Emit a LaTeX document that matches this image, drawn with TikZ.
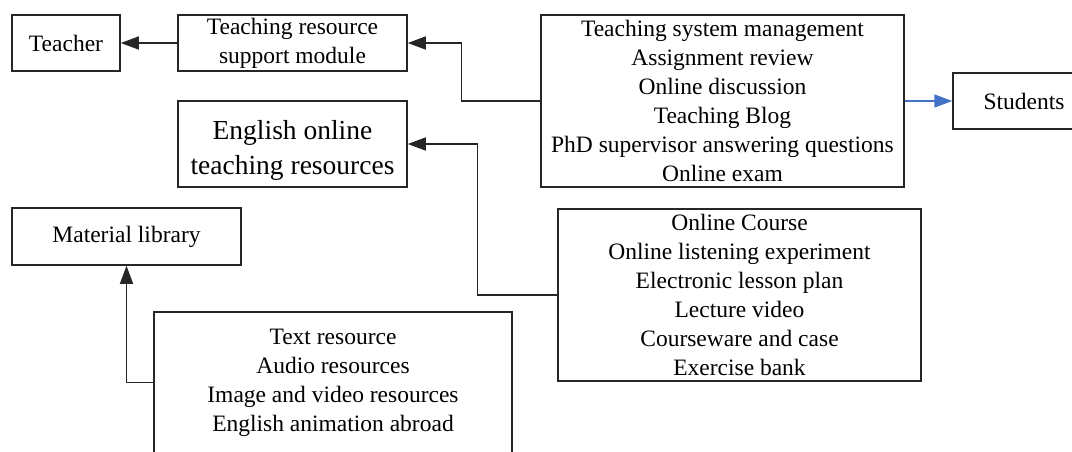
\documentclass[tikz,border=0pt]{standalone}
\usepackage{fontspec}
\setmainfont{Liberation Serif}
\usetikzlibrary{arrows.meta}
\definecolor{linkblue}{RGB}{68,114,196}
\begin{document}
\begin{tikzpicture}[x=1pt,y=-1pt,
  box/.style={draw=black!85,line width=1.5pt,inner sep=0pt,align=center,
    font=\fontsize{23.5}{29}\selectfont,rectangle},
  bigfont/.style={font=\fontsize{27.5}{35}\selectfont},
  arr/.style={draw=black!85,line width=1.5pt,-{Triangle[length=18pt,width=13pt]}},
  barr/.style={draw=linkblue,line width=1.5pt,-{Triangle[length=18pt,width=13pt]}}]
\useasboundingbox (0,0) rectangle (1072,451);
\clip (0,0) rectangle (1072,451);
\fill[white] (0,0) rectangle (1072,451);
\node[box,minimum width=108pt,minimum height=56pt] (teach) at (66,43) {Teacher};
\node[box,minimum width=229pt,minimum height=56pt] (sup) at (292.5,43) {Teaching resource\\support module};
\node[box,minimum width=363pt,minimum height=172pt] (mgmt) at (722.5,101)
  {Teaching system management\\Assignment review\\Online discussion\\Teaching Blog\\PhD supervisor answering questions\\Online exam};
\node[box,minimum width=142pt,minimum height=56pt] (stud) at (1024,101) {Students};
\node[box,bigfont,minimum width=229pt,minimum height=86pt] (eng) at (292.5,144) {\rule{0pt}{32pt}English online\\teaching resources};
\node[box,minimum width=363pt,minimum height=172pt] (course) at (739.5,295)
  {Online Course\\Online listening experiment\\Electronic lesson plan\\Lecture video\\Courseware and case\\Exercise bank};
\node[box,minimum width=229pt,minimum height=57pt] (mat) at (126.5,236.5) {Material library};
\node[box,minimum width=358pt,minimum height=141pt] (res) at (333,382.5)
  {Text resource\\Audio resources\\Image and video resources\\English animation abroad};
\draw[arr] (sup.west) -- (teach.east);
\draw[arr] (mgmt.west) -- ++(-79,0) |- (sup.east);
\draw[barr] (mgmt.east) -- (stud.west);
\draw[arr] (course.west) -- ++(-80,0) |- (eng.east);
\draw[arr] (res.west) -| (mat.south);
\end{tikzpicture}
\end{document}
